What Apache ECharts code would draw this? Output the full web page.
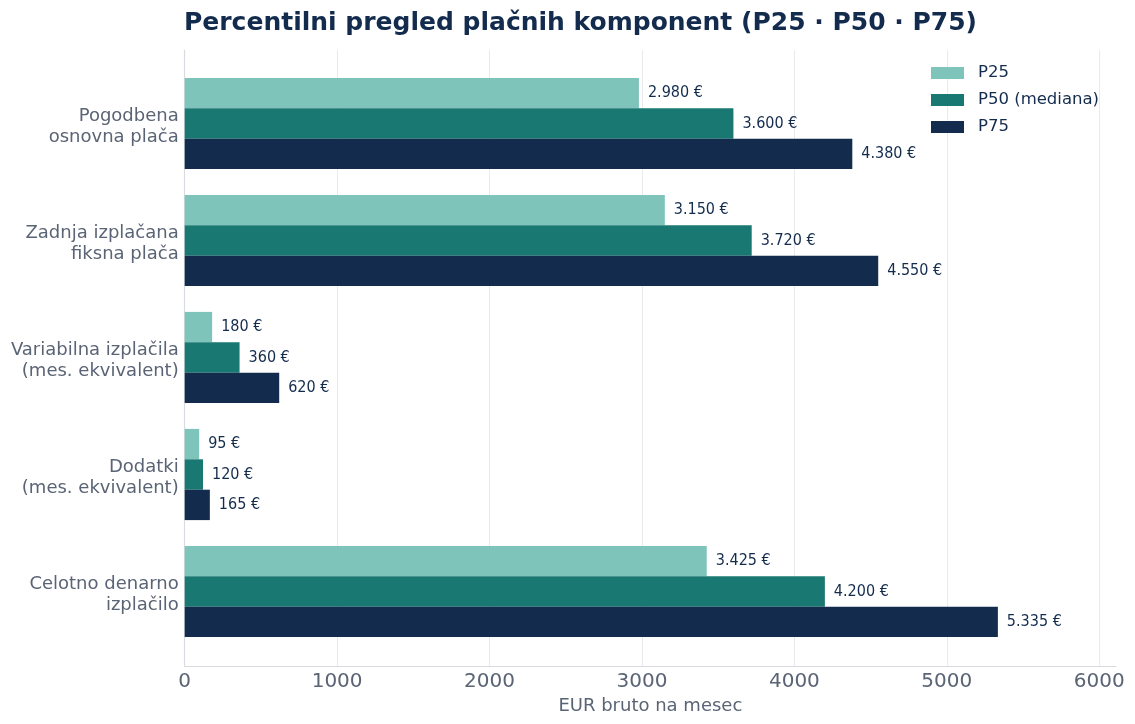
<!DOCTYPE html>
<html>
<head>
<meta charset="utf-8">
<script src="https://cdn.jsdelivr.net/npm/echarts@6/dist/echarts.min.js"></script>
<style>
html,body{margin:0;padding:0;background:#fff;}
#chart{width:1135px;height:724px;}
</style>
</head>
<body>
<div id="chart"></div>
<script>
const categories = ['Pogodbena\nosnovna plača', 'Zadnja izplačana\nfiksna plača', 'Variabilna izplačila\n(mes. ekvivalent)', 'Dodatki\n(mes. ekvivalent)', 'Celotno denarno\nizplačilo'];
const seriesNames = ['P25', 'P50 (mediana)', 'P75'];
const p25 = [2980, 3150, 180, 95, 3425];
const p50 = [3600, 3720, 360, 120, 4200];
const p75 = [4380, 4550, 620, 165, 5335];
const xTicks = [0, 1000, 2000, 3000, 4000, 5000, 6000];
const colors = ['#7fc4bb', '#1a7872', '#132c4e'];

const FONT = 'DejaVu Sans';
const FONT_COND = '"DejaVu Sans Condensed", "DejaVu Sans"';
const XMAX = 6110;
function fmt(v) {
  return String(v).replace(/\B(?=(\d{3})+(?!\d))/g, '.') + ' €';
}

const chart = echarts.init(document.getElementById('chart'), null, {renderer: 'canvas'});
const mk = (name, data, i) => ({
  name: name,
  type: 'bar',
  xAxisIndex: 1,
  yAxisIndex: 1,
  data: data,
  barWidth: 30.4,
  barGap: '0%',
  itemStyle: {color: colors[i]},
  label: {
    show: true,
    position: 'right',
    distance: 9,
    formatter: p => fmt(p.value),
    fontFamily: FONT_COND,
    fontSize: 16,
    color: '#132c4e'
  }
});

chart.setOption({
  animation: false,
  backgroundColor: '#ffffff',
  textStyle: {fontFamily: FONT},
  title: {
    text: 'Percentilni pregled plačnih komponent (P25 · P50 · P75)',
    left: 179,
    top: 6,
    textStyle: {fontFamily: FONT, fontSize: 25, fontWeight: 'bold', color: '#132c4e'}
  },
  legend: {
    data: seriesNames,
    orient: 'vertical',
    left: 931,
    top: 64.5,
    padding: 0,
    itemWidth: 33,
    itemHeight: 12,
    itemGap: 10,
    icon: 'rect',
    textStyle: {fontFamily: FONT, fontSize: 16.5, color: '#132c4e', lineHeight: 16, padding: [0, 0, 0, 9]}
  },
  grid: [
    {left: 184.7, width: 931.3, top: 50, height: 616, containLabel: false},
    {left: 184.7, width: 931.3, top: 65, height: 585, containLabel: false}
  ],
  xAxis: [
    {
      type: 'value', gridIndex: 0, min: 0, max: XMAX, interval: 1000,
      name: 'EUR bruto na mesec', nameLocation: 'middle', nameGap: 29,
      nameTextStyle: {fontFamily: FONT, fontSize: 18, color: '#5a6475'},
      axisLine: {show: true, lineStyle: {color: '#d8dce0', width: 1.2}},
      axisTick: {show: false},
      axisLabel: {
        margin: 6, fontFamily: FONT, fontSize: 20, color: '#5a6475',
        showMaxLabel: false,
        formatter: v => (xTicks.indexOf(v) >= 0 ? String(v) : '')
      },
      splitLine: {show: true, showMaxLine: false, lineStyle: {color: '#e8ebee', width: 1}}
    },
    {
      type: 'value', gridIndex: 1, min: 0, max: XMAX, interval: 1000, show: false
    }
  ],
  yAxis: [
    {
      type: 'value', gridIndex: 0, min: 0, max: 1,
      axisLine: {show: true, lineStyle: {color: '#d8dce0', width: 1.2}},
      axisTick: {show: false}, axisLabel: {show: false}, splitLine: {show: false}
    },
    {
      type: 'category', gridIndex: 1, data: categories, inverse: true,
      axisLine: {show: false}, axisTick: {show: false}, splitLine: {show: false},
      axisLabel: {
        margin: 6, fontFamily: FONT, fontSize: 18, lineHeight: 21, color: '#5a6475', align: 'right',
        formatter: v => '{s| }\n' + v.split('\n').map(t => '{a|' + t + '}').join('\n'),
        rich: {
          s: {fontSize: 1, lineHeight: 7, fontFamily: FONT},
          a: {fontSize: 18, lineHeight: 21, fontFamily: FONT, color: '#5a6475', align: 'right'}
        }
      }
    }
  ],
  series: [mk(seriesNames[0], p25, 0), mk(seriesNames[1], p50, 1), mk(seriesNames[2], p75, 2)]
});
</script>
</body>
</html>
